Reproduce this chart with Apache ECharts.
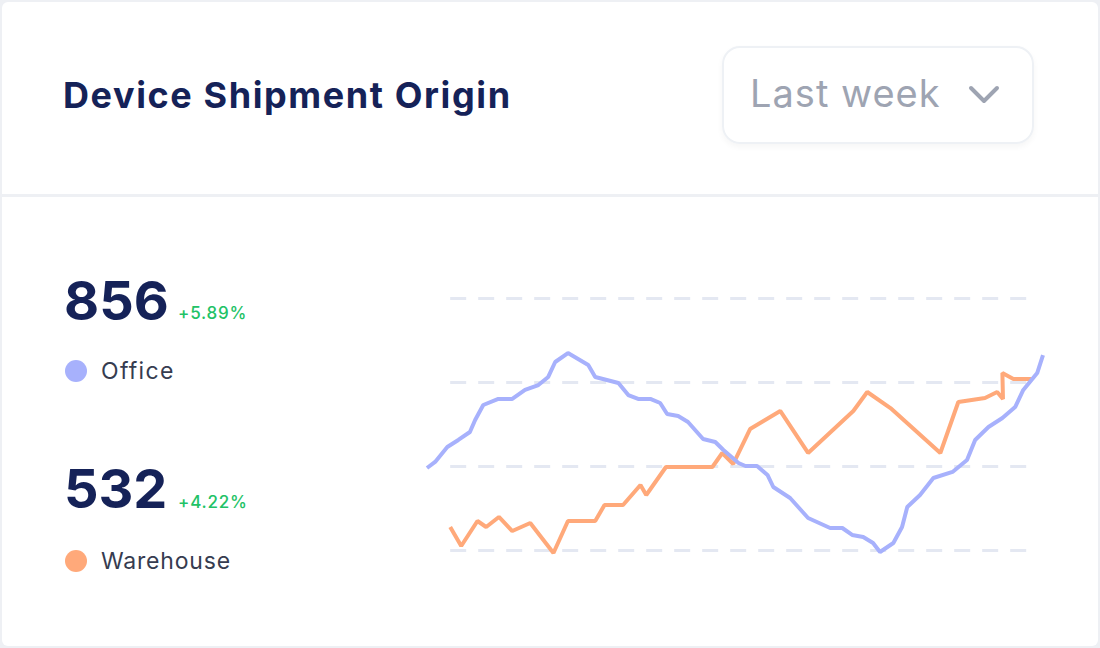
<!DOCTYPE html>
<html><head><meta charset="utf-8">
<script src="https://cdn.jsdelivr.net/npm/echarts@6/dist/echarts.min.js"></script>
<style>
html,body{margin:0;padding:0;width:1100px;height:648px;background:#eef0f4;font-family:Inter,"Noto Sans",sans-serif;overflow:hidden}
#card{position:absolute;left:2px;top:2px;width:1096px;height:644px;background:#fff;border-radius:6px}
#hdr{position:absolute;left:0;top:0;width:1096px;height:192px;border-bottom:3px solid #eef0f4}
.t{position:absolute;white-space:nowrap}
#chart{position:absolute;left:0;top:0;width:1100px;height:648px}
</style></head><body>
<div id="card"><div id="hdr"></div></div>
<div class="t" style="left:63px;top:73px;font-size:36px;font-weight:700;color:#152258;letter-spacing:1.6px">Device Shipment Origin</div>
<div style="position:absolute;left:722px;top:46px;width:308px;height:94px;border:2px solid #eef1f5;border-radius:18px;box-shadow:0 3px 6px rgba(0,0,0,0.04)"></div>
<div class="t" style="left:750px;top:70px;font-size:38px;color:#9ea4b2;letter-spacing:1px">Last week</div>
<svg style="position:absolute;left:968px;top:84px" width="36" height="24"><polyline points="3,4 16,17 29,4" fill="none" stroke="#9ea4b2" stroke-width="4" stroke-linecap="round" stroke-linejoin="round"/></svg>
<div class="t" style="left:64px;top:268px;font-size:54px;font-weight:700;color:#152258">856</div>
<div class="t" style="left:178px;top:303px;font-size:17px;font-weight:500;color:#22c266;letter-spacing:0.8px">+5.89%</div>
<div style="position:absolute;left:65px;top:360px;width:22px;height:22px;border-radius:50%;background:#a7b1fc"></div>
<div class="t" style="left:101px;top:357px;font-size:23px;color:#363c50;letter-spacing:1.3px">Office</div>
<div class="t" style="left:64px;top:456px;font-size:54px;font-weight:700;color:#152258">532</div>
<div class="t" style="left:178px;top:492px;font-size:17px;font-weight:500;color:#22c266;letter-spacing:0.8px">+4.22%</div>
<div style="position:absolute;left:65px;top:550px;width:22px;height:22px;border-radius:50%;background:#ffa97a"></div>
<div class="t" style="left:101px;top:547px;font-size:23px;color:#363c50;letter-spacing:0.8px">Warehouse</div>
<div id="chart"></div>
<script>
const officeX = [-4.0,-2.6,-0.5,1.4,3.4,4.3,5.7,8.3,10.7,12.9,15.2,16.9,18.1,20.3,23.8,25,29,30.7,32.4,34.5,36.2,37.4,39.3,41,43.6,45.7,47.1,49.7,50.9,52.9,54.7,55.7,58.6,61.7,65.5,67.6,69.3,71.2,72.9,74.1,76.4,77.9,78.8,81,83.3,86.6,89.1,90.5,92.8,95.2,97.4,98.8,101.2,102.2];
const officeY = [97.6,104.8,122.6,131,140.5,154.8,172.6,179.8,179.8,190.5,196.4,206,223.8,234.5,220.2,206,198.8,184.5,179.8,179.8,175,161.9,159.5,152.4,132.1,128.6,119,103.6,100,100,89.3,75,61.9,38.1,26.2,26.2,17.9,15.5,8.3,-2.4,8.3,27.4,51.2,65.5,85.7,92.9,107.1,131,146.4,157.1,170.2,190.5,210.7,232.1];
const warehouseX = [0,1.9,4.7,6.2,8.4,10.7,13.8,17.8,20.3,25,26.6,29.8,32.8,33.8,37.2,45.2,46.9,48.8,51.7,56.9,61.7,69.5,71.9,75.9,84.5,87.6,92.2,94.3,95.3,95.2,97.1,100.3];
const warehouseY = [27.4,4.8,34.5,27.4,39.3,22.6,32.1,-3.6,34.5,34.5,53.6,53.6,77.4,65.5,98.8,98.8,115.5,102.4,144,165.5,115.5,165.5,188.1,169,115.5,176.2,181,188.1,179.8,210.7,203.6,203.6];
const yTicks = [0,100,200,300];
const zip=(a,b)=>a.map((v,i)=>[v,b[i]]);
const c = echarts.init(document.getElementById('chart'));
c.setOption({
  animation:false,
  grid:{left:427,right:57,top:298,bottom:98},
  xAxis:{type:'value',min:-4,max:102.2,show:false},
  yAxis:{type:'value',min:yTicks[0],max:yTicks[yTicks.length-1],interval:100,show:false,splitLine:{show:false}},
  series:[
    {type:'line',data:zip(warehouseX,warehouseY),showSymbol:false,clip:false,lineStyle:{color:'#ffa97a',width:4},z:2,
     markLine:{silent:true,symbol:'none',label:{show:false},lineStyle:{color:'#e4e8f2',width:3,type:[16,12]},z:1,
       data:yTicks.map(v=>[{coord:[0,v]},{coord:[100,v]}])}},
    {type:'line',data:zip(officeX,officeY),showSymbol:false,clip:false,lineStyle:{color:'#a7b1fc',width:4},z:3}
  ]
});
</script>
</body></html>
